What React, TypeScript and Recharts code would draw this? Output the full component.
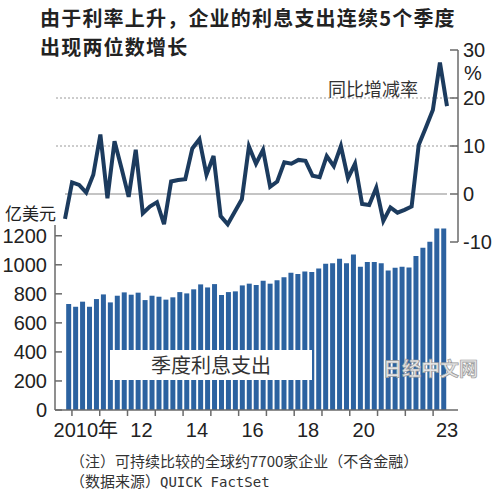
import React from 'react';
import { ComposedChart, Bar, Line, XAxis, YAxis, ReferenceLine } from 'recharts';

if (typeof document !== 'undefined') document.body.style.margin = '0';

// quarterly, 2009Q4 .. 2023Q2
const quarters = [
    '09Q4',
    '10Q1', '10Q2', '10Q3', '10Q4', '11Q1', '11Q2', '11Q3', '11Q4',
    '12Q1', '12Q2', '12Q3', '12Q4', '13Q1', '13Q2', '13Q3', '13Q4',
    '14Q1', '14Q2', '14Q3', '14Q4', '15Q1', '15Q2', '15Q3', '15Q4',
    '16Q1', '16Q2', '16Q3', '16Q4', '17Q1', '17Q2', '17Q3', '17Q4',
    '18Q1', '18Q2', '18Q3', '18Q4', '19Q1', '19Q2', '19Q3', '19Q4',
    '20Q1', '20Q2', '20Q3', '20Q4', '21Q1', '21Q2', '21Q3', '21Q4',
    '22Q1', '22Q2', '22Q3', '22Q4', '23Q1', '23Q2'
];

// 季度利息支出 (亿美元)
const interestExpense = [
    730,
    711, 746, 711, 764, 796, 741, 787, 810,
    794, 808, 757, 787, 780, 760, 776, 812,
    803, 831, 865, 844, 867, 792, 812, 817,
    858, 870, 860, 890, 870, 893, 915, 945,
    936, 954, 950, 975, 1007, 1010, 1042, 1010,
    1071, 987, 1019, 1019, 1010, 961, 980, 987,
    982, 1060, 1117, 1159, 1250, 1250
];

// 同比增减率 (%)
const yoyChange = [
    -5.2,
    2.4, 1.9, 0.3, 4.0, 12.4, -0.9, 11.0, 5.3,
    -0.6, 9.2, -4.0, -2.6, -1.7, -6.3, 2.6, 2.9,
    3.1, 9.5, 11.4, 4.0, 7.9, -4.6, -6.3, -3.7,
    -1.1, 9.9, 6.3, 9.2, 1.5, 2.6, 6.6, 6.3,
    7.1, 6.9, 3.8, 3.5, 7.9, 5.8, 10.0, 3.3,
    6.3, -2.1, -2.3, 1.3, -5.6, -2.8, -3.9, -3.3,
    -2.6, 10.2, 13.8, 17.5, 27.4, 18.3
];

const yearTicks = [
    '10Q1', '11Q1', '12Q1', '13Q1', '14Q1', '15Q1', '16Q1',
    '17Q1', '18Q1', '19Q1', '20Q1', '21Q1', '22Q1', '23Q1'
];
const yearLabels = ['2010年', '', '12', '', '14', '', '16', '', '18', '', '20', '', '', '23'];
const expenseTicks = [0, 200, 400, 600, 800, 1000, 1200];
const changeTicks = [-10, 0, 10, 20, 30];

const rows = quarters.map((q, i) => ({ q, expense: interestExpense[i], change: yoyChange[i] }));

const W = 500;
const H = 500;
const LEFT = 55;
const RIGHT = 42;
const PAD = { left: 10, right: 11 };
const pitch = (W - LEFT - RIGHT - PAD.left - PAD.right) / quarters.length;

const NUM_FONT = '"Liberation Sans", Arial, "Noto Sans CJK SC", sans-serif';
const CJK_FONT = '"Noto Sans CJK SC", sans-serif';
const AXIS = '#6a6a6a';
const TEXT = '#222';

const ExpenseTick = ({ x, y, payload }: any) => (
    <g>
        <line x1={x + 8} x2={x + 15} y1={y} y2={y} stroke={AXIS} strokeWidth={1.5} />
        <text x={x} y={y} dy='0.36em' textAnchor='end' fontSize={20} fill={TEXT} fontFamily={NUM_FONT}>
            {payload.value}
        </text>
    </g>
);

const ChangeTick = ({ x, y, payload }: any) => (
    <g>
        <line x1={x - 5} x2={x - 13} y1={y} y2={y} stroke={AXIS} strokeWidth={1.5} />
        <text x={x} y={y} dy='0.36em' fontSize={20} fill={TEXT} fontFamily={NUM_FONT}>
            {payload.value}
        </text>
        {payload.value === 30 && (
            <text x={x + 1} y={y + 23} dy='0.36em' fontSize={20} fill={TEXT} fontFamily={NUM_FONT}>%</text>
        )}
    </g>
);

const YearTick = ({ x, y, payload }: any) => {
    const label = yearLabels[yearTicks.indexOf(payload.value)];
    const bx = x - pitch / 2;
    return (
        <g>
            <line x1={bx} x2={bx} y1={y} y2={y + 6} stroke={AXIS} strokeWidth={1.5} />
            {label && (
                <text x={x + pitch * 1.5} y={y + 27} textAnchor='middle' fontSize={20} fill={TEXT} fontFamily={NUM_FONT}>
                    {label}
                </text>
            )}
        </g>
    );
};

const abs = (style: React.CSSProperties): React.CSSProperties => ({ position: 'absolute', whiteSpace: 'nowrap', ...style });

export default function App() {
    return (
        <div style={{ position: 'relative', width: W, height: H, background: '#fff', overflow: 'hidden' }}>
            {/* bars: quarterly interest expense */}
            <div style={abs({ left: 0, top: 0 })}>
                <ComposedChart width={W} height={H} data={rows} margin={{ top: 225, right: RIGHT, bottom: 60, left: 0 }} barCategoryGap='17%'>
                    <XAxis
                        dataKey='q'
                        ticks={yearTicks}
                        interval={0}
                        padding={PAD}
                        height={30}
                        tickSize={0}
                        tickMargin={0}
                        tickLine={false}
                        axisLine={{ stroke: AXIS, strokeWidth: 1.5 }}
                        tick={<YearTick />}
                    />
                    <YAxis
                        width={LEFT}
                        domain={[0, 1274]}
                        ticks={expenseTicks}
                        interval={0}
                        tickSize={0}
                        tickMargin={8}
                        tickLine={false}
                        axisLine={{ stroke: AXIS, strokeWidth: 1.5 }}
                        tick={<ExpenseTick />}
                    />
                    <Bar dataKey='expense' fill='#2c62a0' isAnimationActive={false} />
                </ComposedChart>
            </div>

            {/* line: year-on-year change */}
            <div style={abs({ left: 0, top: 0 })}>
                <ComposedChart width={W} height={H} data={rows} margin={{ top: 50, right: 0, bottom: 258, left: LEFT }}>
                    <XAxis dataKey='q' hide padding={PAD} />
                    <YAxis
                        yAxisId='change'
                        orientation='right'
                        width={RIGHT}
                        domain={[-10, 30]}
                        ticks={changeTicks}
                        interval={0}
                        tickSize={0}
                        tickMargin={5}
                        tickLine={false}
                        axisLine={{ stroke: AXIS, strokeWidth: 1.5 }}
                        tick={<ChangeTick />}
                    />
                    <ReferenceLine yAxisId='change' y={20} stroke='#9a9a9a' strokeDasharray='2 2' />
                    <ReferenceLine yAxisId='change' y={10} stroke='#9a9a9a' strokeDasharray='2 2' />
                    <ReferenceLine
                        yAxisId='change'
                        segment={[{ x: quarters[0], y: 0 }, { x: quarters[quarters.length - 1], y: 0 }]}
                        stroke='#8a8a8a'
                        strokeWidth={1.2}
                    />
                    <Line
                        yAxisId='change'
                        dataKey='change'
                        stroke='#1c3b5e'
                        strokeWidth={4}
                        dot={false}
                        isAnimationActive={false}
                    />
                </ComposedChart>
            </div>

            <div style={abs({ left: 40, top: 6, fontFamily: CJK_FONT, fontWeight: 700, fontSize: 20, letterSpacing: 1.2, lineHeight: '24px', color: TEXT })}>
                由于利率上升，企业的利息支出连续5个季度
            </div>
            <div style={abs({ left: 40, top: 35, fontFamily: CJK_FONT, fontWeight: 700, fontSize: 20, letterSpacing: 1.2, lineHeight: '24px', color: TEXT })}>
                出现两位数增长
            </div>
            <div style={abs({ left: 328, top: 76, fontFamily: CJK_FONT, fontSize: 18, lineHeight: '24px', color: '#333' })}>
                同比增减率
            </div>
            <div style={abs({ left: 5, top: 201, fontFamily: CJK_FONT, fontSize: 17, lineHeight: '24px', color: TEXT })}>
                亿美元
            </div>
            <div style={abs({ left: 110, top: 350, width: 202, height: 30, background: '#fff', fontFamily: CJK_FONT, fontSize: 20, lineHeight: '30px', textAlign: 'center', color: '#333' })}>
                季度利息支出
            </div>
            <div style={abs({ left: 383, top: 356, fontFamily: CJK_FONT, fontWeight: 700, fontSize: 19, lineHeight: '24px', color: '#e4e4e4', WebkitTextStroke: '0.7px #9a9a9a' })}>
                日经中文网
            </div>
            <div style={abs({ left: 70, top: 451, fontFamily: CJK_FONT, fontSize: 15, lineHeight: '20px', color: '#333' })}>
                （注）可持续比较的全球约7700家企业（不含金融）
            </div>
            <div style={abs({ left: 70, top: 471, fontFamily: CJK_FONT, fontSize: 15, lineHeight: '20px', color: '#333' })}>
                （数据来源）<span style={{ fontFamily: '"DejaVu Sans Mono", "Liberation Mono", monospace', fontSize: 14 }}>QUICK FactSet</span>
            </div>
        </div>
    );
}
